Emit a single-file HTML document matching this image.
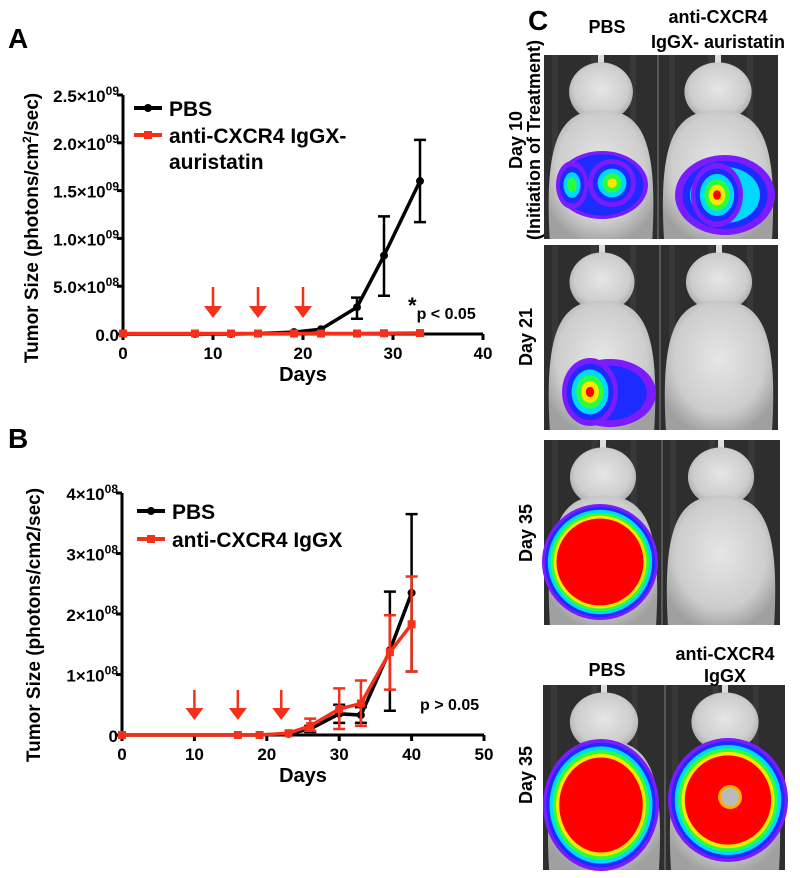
<!DOCTYPE html>
<html><head><meta charset="utf-8">
<style>
html,body{margin:0;padding:0;background:#fff;}
svg{display:block;font-family:"Liberation Sans",Arial,sans-serif;font-weight:bold;}
</style></head>
<body>
<svg id="fig" width="800" height="878" viewBox="0 0 800 878" xmlns="http://www.w3.org/2000/svg">
<defs>
<radialGradient id="mouseG" cx="50%" cy="45%" r="60%">
<stop offset="0" stop-color="#e6e6e6"/><stop offset="0.7" stop-color="#cdcdcd"/><stop offset="1" stop-color="#a0a0a0"/>
</radialGradient>
</defs>
<g id="panelA"></g>
<g id="panelB"></g>
<g id="panelC"></g>
</svg>
<script>
// ---- Panel A data ----
const daysA_pbs = [0, 8, 12, 15, 19, 22, 26, 29, 33];
const valsA_pbs = [0, 0, 0, 0.005e9, 0.02e9, 0.05e9, 0.28e9, 0.82e9, 1.6e9];
const errLoA_pbs = [0, 0, 0, 0, 0.02e9, 0.05e9, 0.16e9, 0.40e9, 1.17e9];
const errHiA_pbs = [0, 0, 0, 0, 0.02e9, 0.05e9, 0.38e9, 1.23e9, 2.03e9];
const daysA_trt = [0, 8, 12, 15, 19, 22, 26, 29, 33];
const valsA_trt = [0.005e9, 0.005e9, 0.005e9, 0.005e9, 0.005e9, 0.005e9, 0.005e9, 0.008e9, 0.01e9];
const arrowsA = [10, 15, 20];
const xTicksA = [0, 10, 20, 30, 40];
const yTicksA = [0, 0.5e9, 1.0e9, 1.5e9, 2.0e9, 2.5e9];
const yTickLabelsA = [["0.0",""],["5.0×10","08"],["1.0×10","09"],["1.5×10","09"],["2.0×10","09"],["2.5×10","09"]];
// ---- Panel B data ----
const daysB = [0, 16, 19, 23, 26, 30, 33, 37, 40];
const valsB_pbs = [0, 0, 0, 0.02e8, 0.10e8, 0.35e8, 0.33e8, 1.40e8, 2.35e8];
const errLoB_pbs = [0, 0, 0, 0.02e8, 0.05e8, 0.20e8, 0.20e8, 0.40e8, 1.05e8];
const errHiB_pbs = [0, 0, 0, 0.02e8, 0.15e8, 0.50e8, 0.46e8, 2.37e8, 3.65e8];
const valsB_trt = [0, 0, 0, 0.03e8, 0.15e8, 0.43e8, 0.52e8, 1.37e8, 1.83e8];
const errLoB_trt = [0, 0, 0, 0.03e8, 0.07e8, 0.10e8, 0.15e8, 0.75e8, 1.05e8];
const errHiB_trt = [0, 0, 0, 0.03e8, 0.27e8, 0.77e8, 0.90e8, 1.98e8, 2.62e8];
const arrowsB = [10, 16, 22];
const xTicksB = [0, 10, 20, 30, 40, 50];
const yTicksB = [0, 1e8, 2e8, 3e8, 4e8];
const yTickLabelsB = [["0",""],["1×10","08"],["2×10","08"],["3×10","08"],["4×10","08"]];

const NS = "http://www.w3.org/2000/svg";
const RED = "#f4301a";
function mk(tag, attrs, parent){const e=document.createElementNS(NS,tag);for(const k in attrs)e.setAttribute(k,attrs[k]);parent.appendChild(e);return e;}

function drawChart(g, cfg){
  const sx = d => cfg.x0 + (d - cfg.xmin)/(cfg.xmax-cfg.xmin)*(cfg.x1-cfg.x0);
  const sy = v => cfg.y0 - (v - 0)/(cfg.ymax)*(cfg.y0-cfg.y1);
  const ax = mk('path',{d:`M${cfg.x0},${cfg.y1} V${cfg.y0} H${cfg.x1}`,fill:'none',stroke:'#000','stroke-width':3},g);
  
  
  cfg.xTicks.forEach(t=>{
    const l=mk('line',{x1:sx(t),x2:sx(t),y1:cfg.y0,y2:cfg.y0+6,stroke:'#000','stroke-width':3},g);
    
    
    const tx=mk('text',{x:sx(t),y:cfg.y0+25,'text-anchor':'middle','font-size':17},g);tx.textContent=t;
    
    
  });
  cfg.yTicks.forEach((t,i)=>{
    const l=mk('line',{x1:cfg.x0-6,x2:cfg.x0,y1:sy(t),y2:sy(t),stroke:'#000','stroke-width':3},g);
    
    
    const tx=mk('text',{x:cfg.x0-4,y:sy(t)+7,'text-anchor':'end','font-size':17},g);
    
    
    const lab=cfg.yLabels[i];
    const a=mk('tspan',{},tx);a.textContent=lab[0];
    if(lab[1]){const b=mk('tspan',{dy:-7,'font-size':12},tx);b.textContent=lab[1];}
  });
  const xt=mk('text',{x:(cfg.x0+cfg.x1)/2,y:cfg.y0+47,'text-anchor':'middle','font-size':20},g);xt.textContent='Days';
  
  
  const yt=mk('text',{x:0,y:0,'text-anchor':'middle','font-size':19,transform:`translate(${cfg.ytx},${cfg.yty}) rotate(-90)`},g);
  
  
  cfg.ytitle.forEach(p=>{const s=mk('tspan',p.sup?{dy:-7,'font-size':12}:(p.after?{dy:7}:{}),yt);s.textContent=p.t;});
  cfg.arrows.forEach(d=>{
    const x=sx(d);
    const ar=mk('path',{d:`M${x},${cfg.arY0} V${cfg.arY1-10}`,fill:'none',stroke:RED,'stroke-width':2.5},g);
    
    
    mk('path',{d:`M${x-9},${cfg.arY1-12} L${x},${cfg.arY1} L${x+9},${cfg.arY1-12}Z`,fill:RED},g);
  });
  cfg.series.forEach(s=>{
    const sg=mk('g',{},g);
    
    
    if(s.lo){
      s.days.forEach((d,i)=>{
        if(s.hi[i]-s.lo[i]<=0) return;
        const x=sx(d);
        mk('path',{d:`M${x},${sy(s.lo[i])} V${sy(s.hi[i])} M${x-6},${sy(s.lo[i])} H${x+6} M${x-6},${sy(s.hi[i])} H${x+6}`,stroke:s.color,'stroke-width':2.5,fill:'none'},sg);
      });
    }
    const pts=s.days.map((d,i)=>`${sx(d)},${sy(s.vals[i])}`).join(' ');
    mk('polyline',{points:pts,fill:'none',stroke:s.color,'stroke-width':3.5},sg);
    s.days.forEach((d,i)=>{
      let m;
      if(s.square) m=mk('rect',{x:sx(d)-4,y:sy(s.vals[i])-4,width:8,height:8,fill:s.color},sg);
      else m=mk('circle',{cx:sx(d),cy:sy(s.vals[i]),r:4,fill:s.color},sg);
      
      
    });
  });
  cfg.legend.forEach((L,i)=>{
    const y=cfg.legY+i*cfg.legDy;
    const lg=mk('g',{},g);
    
    
    mk('line',{x1:cfg.legX,x2:cfg.legX+28,y1:y,y2:y,stroke:L.color,'stroke-width':4},lg);
    if(L.square) mk('rect',{x:cfg.legX+10,y:y-4,width:8,height:8,fill:L.color},lg);
    else mk('circle',{cx:cfg.legX+14,cy:y,r:4,fill:L.color},lg);
    L.lines.forEach((t,j)=>{const tx=mk('text',{x:cfg.legX+35,y:y+8+j*26,'font-size':21},lg);tx.textContent=t;});
  });
}

const gA=document.getElementById('panelA');
drawChart(gA,{x0:123,x1:483,xmin:0,xmax:40,y0:334,y1:95,ymax:2.5e9,
  xTicks:xTicksA,yTicks:yTicksA,yLabels:yTickLabelsA,ytx:38,yty:228,
  ytitle:[{t:'Tumor Size (photons/cm'},{t:'2',sup:true},{t:'/sec)',after:true}],
  arrows:arrowsA,arY0:287,arY1:318,
  series:[
    {name:'series-pbs-a',days:daysA_pbs,vals:valsA_pbs,lo:errLoA_pbs,hi:errHiA_pbs,color:'#000'},
    {name:'series-treated-a',days:daysA_trt,vals:valsA_trt,color:RED,square:true}
  ],
  legX:134,legY:108,legDy:27,legend:[{color:'#000',lines:['PBS']},{color:RED,square:true,lines:['anti-CXCR4 IgGX-','auristatin']}]
});
const gB=document.getElementById('panelB');
drawChart(gB,{x0:122,x1:484,xmin:0,xmax:50,y0:735,y1:493,ymax:4e8,
  xTicks:xTicksB,yTicks:yTicksB,yLabels:yTickLabelsB,ytx:40,yty:625,
  ytitle:[{t:'Tumor Size (photons/cm2/sec)'}],
  arrows:arrowsB,arY0:690,arY1:720,
  series:[
    {name:'series-pbs-b',days:daysB,vals:valsB_pbs,lo:errLoB_pbs,hi:errHiB_pbs,color:'#000'},
    {name:'series-treated-b',days:daysB,vals:valsB_trt,lo:errLoB_trt,hi:errHiB_trt,color:RED,square:true}
  ],
  legX:137,legY:511,legDy:28,legend:[{color:'#000',lines:['PBS']},{color:RED,square:true,lines:['anti-CXCR4 IgGX']}]
});

function txt(parent,x,y,s,size,extra,name){const t=mk('text',Object.assign({x:x,y:y,'font-size':size},extra||{}),parent);t.textContent=s;
  
  return t;}
const svg=document.getElementById('fig');
txt(svg,8,48,'A',28,{},'panel-a-label');
txt(svg,8,448,'B',28,{},'panel-b-label');
txt(svg,528,30,'C',28,{},'panel-c-label');
const sa=txt(svg,408,313,'',16,{},'significance-a');
const s1=mk('tspan',{'font-size':22},sa);s1.textContent='*';
const s2=mk('tspan',{dy:6},sa);s2.textContent='p < 0.05';
txt(svg,420,710,'p > 0.05',16,{},'significance-b');

// ---- Panel C images ----
const gC=document.getElementById('panelC');
const colors=['#7a1cff','#1e2bff','#00d8ff','#2bff3a','#ffe600','#ff0000'];
function blob(g,cx,cy,rx,ry,levels,core){
  const n=Math.min(levels,colors.length);
  const c=core||0.15;
  for(let i=0;i<n;i++){
    const f=1-i/(n-1)*(1-c);
    mk('ellipse',{cx:cx,cy:cy,rx:rx*f,ry:ry*f,fill:colors[i]},g);
  }
}
function mouse(g,cx,y0,y1,w){
  mk('rect',{x:cx-3,y:y0,width:6,height:(y1-y0)*0.15,fill:'#ddd'},g);
  mk('ellipse',{cx:cx,cy:y0+(y1-y0)*0.2,rx:w*0.28,ry:(y1-y0)*0.16,fill:'url(#mouseG)'},g);
  mk('path',{d:`M${cx-w*0.45},${y1} C${cx-w*0.5},${y0+(y1-y0)*0.45} ${cx-w*0.35},${y0+(y1-y0)*0.3} ${cx},${y0+(y1-y0)*0.3} C${cx+w*0.35},${y0+(y1-y0)*0.3} ${cx+w*0.5},${y0+(y1-y0)*0.45} ${cx+w*0.45},${y1} Z`,fill:'url(#mouseG)'},g);
}
function panel(name,x0,x1,split,y0,y1){
  const g=mk('g',{},gC);
  
  
  mk('rect',{x:x0,y:y0,width:x1-x0,height:y1-y0,fill:'#2e2e2e'},g);
  for(let i=0;i<6;i++) mk('rect',{x:x0+(x1-x0)*(i/6)+8,y:y0,width:6,height:y1-y0,fill:'#383838'},g);
  mk('line',{x1:split,x2:split,y1:y0,y2:y1,stroke:'#666','stroke-width':1.5},g);
  mouse(g,(x0+split)/2,y0,y1,split-x0);
  mouse(g,(split+x1)/2,y0,y1,x1-split);
  return g;
}
let p=panel('image-day10',544,778,658,55,239);
blob(p,602,185,46,34,2,0.9);
blob(p,572,185,16,24,4,0.3);blob(p,612,183,24,24,5,0.2);
blob(p,725,195,50,40,3,0.7);blob(p,717,195,26,32,6,0.15);
p=panel('image-day21',544,778,660,245,430);
blob(p,610,393,46,34,2,0.8);blob(p,590,392,28,34,6,0.15);
p=panel('image-day35-auristatin',544,780,662,440,625);
blob(p,600,562,58,58,6,0.75);
p=panel('image-day35-igGX',543,785,665,685,870);
blob(p,601,805,58,66,6,0.72);blob(p,728,800,60,62,6,0.72);
mk('ellipse',{cx:730,cy:797,rx:12,ry:12,fill:'#ffb000'},p);
mk('ellipse',{cx:730,cy:797,rx:9,ry:9,fill:'#bbb'},p);

const cl={'text-anchor':'middle'};
txt(svg,607,33,'PBS',18,cl,'column-label-pbs');
txt(svg,718,23,'anti-CXCR4',18,cl,'column-label-treated');
txt(svg,718,48,'IgGX- auristatin',18,cl,'column-label-treated-2');
txt(svg,607,676,'PBS',18,cl,'column-label-pbs-2');
txt(svg,725,660,'anti-CXCR4',18,cl,'column-label-igGX');
txt(svg,725,682,'IgGX',18,cl,'column-label-igGX-2');
function rot(x,y,s,name){txt(svg,0,0,s,18,{'text-anchor':'middle',transform:`translate(${x},${y}) rotate(-90)`},name);}
rot(522,140,'Day 10','row-label-day10');
rot(540,140,'(Initiation of Treatment)','row-label-initiation');
rot(532,337,'Day 21','row-label-day21');
rot(532,533,'Day 35','row-label-day35');
rot(532,775,'Day 35','row-label-day35-b');
</script>
</body></html>
